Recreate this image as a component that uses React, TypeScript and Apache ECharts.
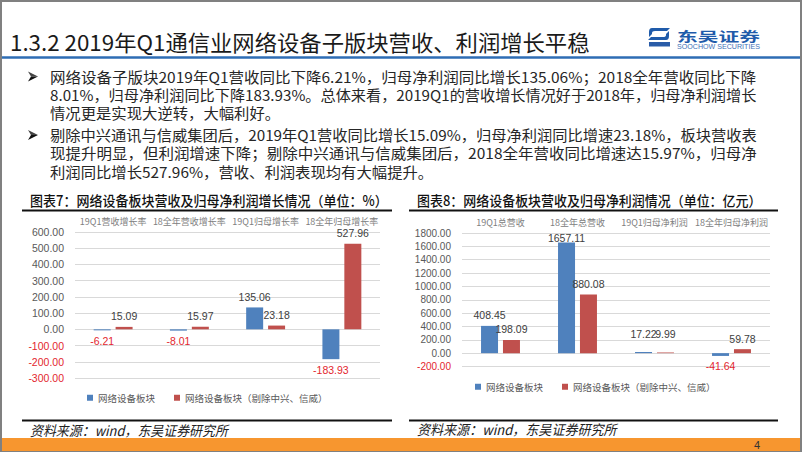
import React, { useEffect, useRef } from "react";
import * as echarts from "echarts";

// ---------- data ----------
const cats1 = ["19Q1营收增长率", "18全年营收增长率", "19Q1归母增长率", "18全年归母增长率"];
const growthAll = [-6.21, -8.01, 135.06, -183.93];
const growthEx = [15.09, 15.97, 23.18, 527.96];
const y1Min = -300, y1Max = 600, y1Step = 100;

const cats2 = ["19Q1总营收", "18全年总营收", "19Q1归母净利润", "18全年归母净利润"];
const valAll = [408.45, 1657.11, 17.22, -41.64];
const valEx = [198.09, 880.08, 9.99, 59.78];
const y2Min = -200, y2Max = 1800, y2Step = 200;

const seriesNames = ["网络设备板块", "网络设备板块（剔除中兴、信威）"];

const titleText = "1.3.2 2019年Q1通信业网络设备子版块营收、利润增长平稳";
const bulletLines = [
  "网络设备子版块2019年Q1营收同比下降6.21%，归母净利润同比增长135.06%；2018全年营收同比下降",
  "8.01%，归母净利润同比下降183.93%。总体来看，2019Q1的营收增长情况好于2018年，归母净利润增长",
  "情况更是实现大逆转，大幅利好。",
  "剔除中兴通讯与信威集团后，2019年Q1营收同比增长15.09%，归母净利润同比增速23.18%，板块营收表",
  "现提升明显，但利润增速下降；剔除中兴通讯与信威集团后，2018全年营收同比增速达15.97%，归母净",
  "利润同比增长527.96%，营收、利润表现均有大幅提升。",
];
const chartTitle1 = "图表7：网络设备板块营收及归母净利润增长情况（单位：%）";
const chartTitle2 = "图表8：网络设备板块营收及归母净利润情况（单位：亿元）";
const sourceText = "资料来源：wind，东吴证券研究所";
const logoCn = "东吴证券";
const logoEn = "SOOCHOW SECURITIES";
const pageNo = "4";

// ---------- styles ----------
const CJK = "Noto Sans CJK SC";
const LAT = "Liberation Sans";
const BLUE = "#4F81BD";
const RED = "#C0504D";
const NEG = "#E3262E";
const GREY = "#595959";
const DARK = "#404040";

echarts.graphic.registerShape(
  "sclogo",
  echarts.graphic.extendPath(
    "M4 0 L22 0 L19 3 L7 3 Q4 3 4 5 L4 6 L1 9 L1 4 Q1 0 4 0 Z M18 12 L0 12 L3 9 L15 9 Q18 9 18 7 L18 6 L21 3 L21 8 Q21 12 18 12 Z",
    {}
  )
);

let mctx: CanvasRenderingContext2D | null = null;
function tw(text: string, size: number, family: string, weight = "normal", style = "normal") {
  if (!mctx) mctx = document.createElement("canvas").getContext("2d");
  if (!mctx) return text.length * size;
  mctx.font = `${style} ${weight} ${size}px ${family}`;
  return mctx.measureText(text).width || text.length * size;
}

function txt(text: string, x: number, y: number, size: number, opts: any = {}) {
  const family = opts.family || CJK;
  const weight = opts.weight || "normal";
  const fstyle = opts.fontStyle || "normal";
  let sx = 1;
  if (opts.width) sx = opts.width / tw(text, size, family, weight, fstyle);
  if (opts.scale) sx = opts.scale;
  return {
    type: "text",
    x,
    y,
    scaleX: sx,
    scaleY: opts.scaleY || 1,
    z: 10,
    style: {
      text,
      x: 0,
      y: 0,
      fontSize: size,
      fontFamily: family,
      fontWeight: weight,
      fontStyle: fstyle,
      fill: opts.color || "#222",
      align: opts.align || "left",
      verticalAlign: "middle",
    },
  };
}

function hline(x1: number, x2: number, y: number, color: string, w: number) {
  return { type: "line", z: 10, shape: { x1, y1: y, x2, y2: y }, style: { stroke: color, lineWidth: w } };
}

function arrowHead(x: number, y: number) {
  return [
    { type: "polygon", z: 10, shape: { points: [[x, y - 5], [x + 10, y], [x + 3, y]] }, style: { fill: "#444" } },
    { type: "polygon", z: 10, shape: { points: [[x, y + 5], [x + 10, y], [x + 3, y]] }, style: { fill: "#111" } },
  ];
}

function item(v: number, shift = 0) {
  return {
    value: v,
    label: { position: v < 0 ? "bottom" : "top", color: v < 0 ? NEG : DARK, offset: [0, shift] },
  };
}

function buildOption() {
  const bSize = 14.5;
  const fullIdx = [0, 1, 3, 4];
  const scales = bulletLines.map((l) => 707 / tw(l, bSize, CJK));
  const avg = fullIdx.reduce((s, i) => s + scales[i], 0) / fullIdx.length;
  const lineY = [76.5, 94.7, 112.8, 135, 153, 171.5];

  const graphics: any[] = [
    { type: "rect", z: 9, shape: { x: 1, y: 1, width: 800, height: 450 }, style: { fill: "none", stroke: "#808080", lineWidth: 2 } },
    txt(titleText, 10, 41, 22, { width: 580, color: "#1a1a1a" }),
    hline(2, 800, 57.5, "#2E6DB4", 2.5),
    { type: "sclogo", x: 648, y: 28, z: 10, scaleX: 1, scaleY: 1, style: { fill: "#1F5BAA" } },
    { type: "rect", z: 10, shape: { x: 649, y: 42, width: 21, height: 4.5 }, style: { fill: "#2A5CA8" } },
    txt(logoCn, 677, 35.5, 17, { width: 83, weight: "bold", color: "#1F5BAA", scaleY: 0.75 }),
    txt(logoEn, 677, 46.5, 7, { family: LAT, width: 83, color: "#3C6FB6" }),
  ];
  bulletLines.forEach((l, i) => {
    const s = fullIdx.includes(i) ? scales[i] : avg;
    graphics.push(txt(l, 50, lineY[i], bSize, { scale: s, color: "#262626" }));
  });
  graphics.push(...arrowHead(28, lineY[0]));
  graphics.push(...arrowHead(28, lineY[3]));

  graphics.push(txt(chartTitle1, 30, 200, 14, { width: 358, color: "#111", weight: 500 }));
  graphics.push(txt(chartTitle2, 417, 200, 14, { width: 345, color: "#111", weight: 500 }));
  graphics.push(hline(22, 392, 210.5, "#111", 2));
  graphics.push(hline(409, 778, 210.5, "#111", 2));
  graphics.push(hline(22, 392, 420.5, "#111", 2));
  graphics.push(hline(409, 778, 420.5, "#111", 2));
  graphics.push(txt(sourceText, 30, 429.5, 14, { width: 198, fontStyle: "italic", color: "#222" }));
  graphics.push(txt(sourceText, 417, 429, 14, { width: 200, fontStyle: "italic", color: "#222" }));
  graphics.push({ type: "rect", z: 10, shape: { x: 2, y: 438, width: 798, height: 13 }, style: { fill: "#F7962F" } });
  graphics.push(txt(pageNo, 757, 445, 11, { family: LAT, align: "center", color: "#333" }));

  const xAxisBase = (gi: number, data: string[]) => ({
    type: "category",
    gridIndex: gi,
    data,
    position: "top",
    axisLine: { show: false, onZero: false },
    axisTick: { show: false },
    axisLabel: { fontSize: 9, color: "#808080", margin: 6, interval: 0, fontFamily: CJK },
    splitLine: { show: false },
  });
  const yAxisBase = (gi: number, min: number, max: number, step: number, size: number) => ({
    type: "value",
    gridIndex: gi,
    min,
    max,
    interval: step,
    axisLine: { show: false },
    axisTick: { show: false },
    axisLabel: {
      margin: 11,
      fontSize: size,
      fontFamily: LAT,
      formatter: (v: number) => Number(v).toFixed(2),
      color: (v: any) => (Number(v) < 0 ? NEG : GREY),
    },
    splitLine: { lineStyle: { color: "#D9D9D9", width: 1 } },
  });
  const barBase = {
    type: "bar",
    barWidth: 17,
    barGap: "29%",
    label: {
      show: true,
      fontSize: 10.5,
      fontFamily: LAT,
      distance: 5,
      formatter: (p: any) => Number(p.value).toFixed(2),
    },
  };
  const shiftAll2 = [0, 6, -8, 0];
  const shiftEx2 = [0, 0, -8, 0];

  const legendBase = {
    icon: "rect",
    itemWidth: 6,
    itemHeight: 6,
    itemGap: 19,
    padding: 0,
    data: seriesNames,
    textStyle: { fontSize: 9.5, color: GREY, fontFamily: CJK },
  };

  return {
    animation: false,
    backgroundColor: "#ffffff",
    grid: [
      { left: 75, top: 232, width: 305, height: 146 },
      { left: 462, top: 233, width: 308, height: 133.5 },
    ],
    xAxis: [xAxisBase(0, cats1), xAxisBase(1, cats2)],
    yAxis: [yAxisBase(0, y1Min, y1Max, y1Step, 10.5), yAxisBase(1, y2Min, y2Max, y2Step, 10)],
    legend: [
      { ...legendBase, left: 87, top: 393 },
      { ...legendBase, left: 475, top: 382 },
    ],
    series: [
      { ...barBase, name: seriesNames[0], xAxisIndex: 0, yAxisIndex: 0, itemStyle: { color: BLUE }, data: growthAll.map((v) => item(v)) },
      { ...barBase, name: seriesNames[1], xAxisIndex: 0, yAxisIndex: 0, itemStyle: { color: RED }, data: growthEx.map((v) => item(v)) },
      { ...barBase, name: seriesNames[0], xAxisIndex: 1, yAxisIndex: 1, itemStyle: { color: BLUE }, data: valAll.map((v, i) => item(v, shiftAll2[i])) },
      { ...barBase, name: seriesNames[1], xAxisIndex: 1, yAxisIndex: 1, itemStyle: { color: RED }, data: valEx.map((v, i) => item(v, shiftEx2[i])) },
    ],
    graphic: { elements: graphics },
  };
}

export default function App() {
  const ref = useRef<HTMLDivElement>(null);
  useEffect(() => {
    if (!ref.current) return;
    const chart = echarts.init(ref.current, null, { renderer: "svg", width: 802, height: 452 });
    chart.setOption(buildOption() as any);
    return () => chart.dispose();
  }, []);
  return (
    <div
      ref={ref}
      style={{ position: "fixed", left: 0, top: 0, width: 802, height: 452, background: "#fff" }}
    />
  );
}
